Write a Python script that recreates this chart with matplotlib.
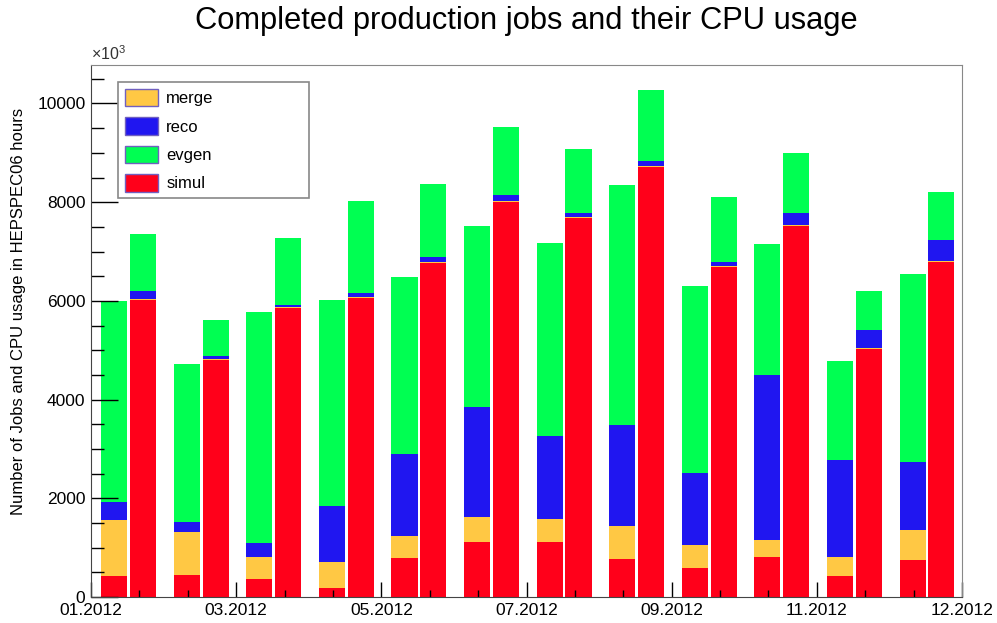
import numpy as np
import matplotlib
matplotlib.use("Agg")
import matplotlib.pyplot as plt
from matplotlib.patches import Patch
from matplotlib.ticker import MultipleLocator

plt.rcParams['font.family'] = ['Liberation Sans', 'DejaVu Sans']
plt.rcParams['mathtext.fontset'] = 'custom'
plt.rcParams['mathtext.rm'] = 'Liberation Sans'

months = ['01.2012', '02.2012', '03.2012', '04.2012', '05.2012', '06.2012',
          '07.2012', '08.2012', '09.2012', '10.2012', '11.2012', '12.2012']
tick_labels = ['01.2012', '03.2012', '05.2012', '07.2012', '09.2012', '11.2012', '12.2012']

# number of jobs (left bar of each month)
jobs_simul = [422, 449, 368, 192, 786, 1109, 1109, 779, 583, 820, 428, 752]
jobs_merge = [1146, 864, 438, 526, 458, 513, 465, 661, 473, 337, 385, 614]
jobs_reco = [351, 202, 296, 1120, 1653, 2219, 1680, 2044, 1457, 3332, 1969, 1376]
jobs_evgen = [4081, 3204, 4676, 4175, 3577, 3669, 3919, 4863, 3791, 2672, 2005, 3798]

# cpu usage in HEPSPEC06 hours (right bar of each month)
cpu_simul = [6028, 4799, 5851, 6060, 6775, 8010, 7672, 8712, 6681, 7524, 5028, 6797]
cpu_merge = [20, 20, 20, 20, 20, 20, 20, 20, 20, 20, 20, 20]
cpu_reco = [152, 68, 48, 88, 102, 115, 82, 108, 88, 236, 372, 411]
cpu_evgen = [1163, 722, 1349, 1855, 1465, 1376, 1295, 1429, 1309, 1214, 789, 978]

colors = {'merge': '#FFC844', 'reco': '#2016F0', 'evgen': '#00FF52', 'simul': '#FF001A'}


def stack(ax, xpos, simul, merge, reco, evgen, width):
    bottom = np.zeros(len(xpos))
    for name, vals in [('simul', simul), ('merge', merge), ('reco', reco), ('evgen', evgen)]:
        ax.bar(xpos, vals, width=width, bottom=bottom, color=colors[name],
               edgecolor='none', align='center')
        bottom = bottom + np.array(vals)


fig = plt.figure(figsize=(9.97, 6.23), dpi=100)
ax = fig.add_axes([0.0913, 0.0417, 0.8736, 0.854])

x = np.arange(len(months))
stack(ax, x + 0.319, jobs_simul, jobs_merge, jobs_reco, jobs_evgen, 0.36)
stack(ax, x + 0.716, cpu_simul, cpu_merge, cpu_reco, cpu_evgen, 0.36)

ax.set_xlim(0, 12)
ax.set_ylim(0, 10780)

ax.set_xticks(np.arange(0, 13, 2))
ax.set_xticklabels(tick_labels, fontsize=12.5)
ax.xaxis.set_minor_locator(MultipleLocator(2 / 3))
ax.yaxis.set_major_locator(MultipleLocator(2000))
ax.yaxis.set_minor_locator(MultipleLocator(500))
ax.tick_params(axis='y', labelsize=12.5)
ax.tick_params(axis='x', which='major', direction='in', length=11, width=1, pad=4, top=False)
ax.tick_params(axis='x', which='minor', direction='in', length=5, width=1, top=False)
ax.tick_params(axis='y', which='major', direction='in', length=19.5, width=1, pad=4, right=False)
ax.tick_params(axis='y', which='minor', direction='in', length=9.5, width=1, right=False)

for side in ['top', 'right']:
    ax.spines[side].set_color('#888888')
for side in ['left', 'bottom']:
    ax.spines[side].set_color('#444444')

ax.set_ylabel('Number of Jobs and CPU usage in HEPSPEC06 hours', fontsize=12)
ax.yaxis.set_label_coords(-0.075, 0.536)
fig.text(0.528, 0.967, 'Completed production jobs and their CPU usage', fontsize=22.2,
         ha='center', va='center')
ax.text(0.0, 1.004, r'$\times10^{3}$', transform=ax.transAxes, fontsize=11.5,
        ha='left', va='bottom', color='#333333')

handles = [Patch(facecolor=colors[n], edgecolor='#7060C0', linewidth=1, label=n)
           for n in ['merge', 'reco', 'evgen', 'simul']]
leg = ax.legend(handles=handles, loc='upper left', bbox_to_anchor=(0.031, 0.75, 0.219, 0.218),
                mode='expand', borderaxespad=0, fontsize=12, fancybox=False, framealpha=1,
                edgecolor='#888888', handlelength=2.0, handleheight=1.25,
                labelspacing=0.65, borderpad=0.4, handletextpad=0.5)
leg.get_frame().set_linewidth(1.2)

fig.savefig('out.png', dpi=100)
